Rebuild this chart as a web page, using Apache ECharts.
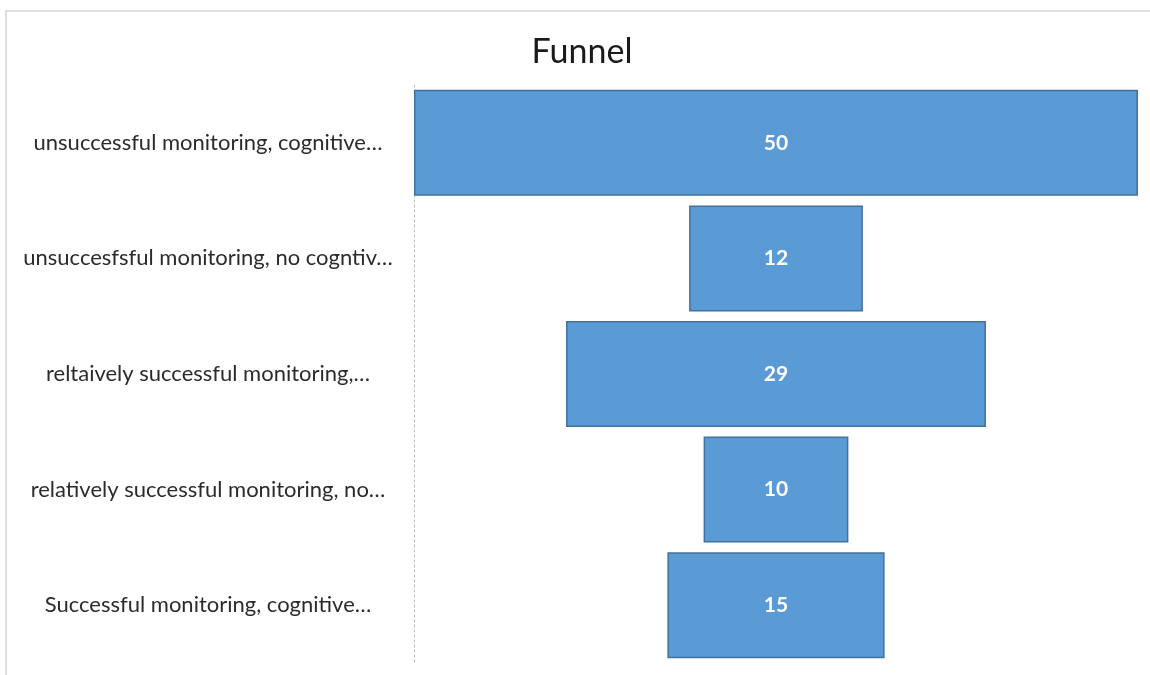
<!DOCTYPE html>
<html>
<head>
<meta charset="utf-8">
<title>Funnel</title>
<script src="https://cdn.jsdelivr.net/npm/echarts@6/dist/echarts.min.js"></script>
<style>
  html, body { margin: 0; padding: 0; background: #fff; }
  #chart { width: 1150px; height: 675px; }
</style>
</head>
<body>
<div id="chart"></div>
<script>
// categories, top to bottom
var categories = [
  "unsuccessful monitoring, cognitive…",
  "unsuccesfsful monitoring, no cogntiv…",
  "reltaively successful monitoring,…",
  "relatively successful monitoring, no…",
  "Successful monitoring, cognitive…"
];
var values = [50, 12, 29, 10, 15];
var maxValue = 50;

// invisible bar that centers each visible bar (funnel look)
var offsets = values.map(function (v) { return (maxValue - v) / 2; });

var chart = echarts.init(document.getElementById("chart"));

chart.setOption({
  animation: false,
  textStyle: { fontFamily: "Lato" },
  title: {
    text: "Funnel",
    left: 577,
    top: 30,
    textAlign: "center",
    textStyle: { fontFamily: "Lato", fontSize: 34, fontWeight: "normal", color: "#1a1a1a" }
  },
  // frame of the chart area
  graphic: [
    { type: "line", shape: { x1: 5, y1: 11, x2: 1150, y2: 11 }, style: { stroke: "#d4d4d4", lineWidth: 1.5 } },
    { type: "line", shape: { x1: 6, y1: 11, x2: 6, y2: 675 }, style: { stroke: "#d4d4d4", lineWidth: 1.5 } }
  ],
  grid: { left: 414, right: 12, top: 85, bottom: 12 },
  xAxis: {
    type: "value",
    min: 0,
    max: maxValue,
    show: false
  },
  yAxis: {
    type: "category",
    inverse: true,
    data: categories,
    axisTick: { show: false },
    axisLine: { show: true, lineStyle: { color: "#bdbdbd", type: [2, 3], width: 1 } },
    // labels are centred in the left column, not right aligned
    axisLabel: { margin: 206, align: "center", fontSize: 22, color: "#2b2b2b", fontFamily: "Lato" }
  },
  series: [
    {
      type: "bar",
      stack: "funnel",
      data: offsets,
      itemStyle: { color: "transparent" },
      barWidth: 106,
      silent: true
    },
    {
      type: "bar",
      stack: "funnel",
      data: values,
      barWidth: 106,
      itemStyle: { color: "#5b9bd5", borderColor: "#41719c", borderWidth: 1.5 },
      label: {
        show: true,
        position: "inside",
        color: "#fff",
        fontWeight: "bold",
        fontSize: 21,
        fontFamily: "Lato"
      }
    }
  ]
});
</script>
</body>
</html>
